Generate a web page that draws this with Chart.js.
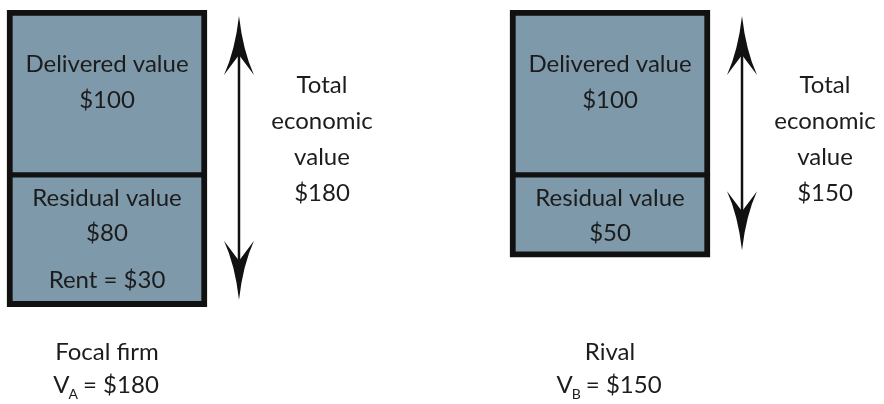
<!DOCTYPE html>
<html>
<head>
<meta charset="utf-8">
<script src="https://cdn.jsdelivr.net/npm/chart.js@4.4.1/dist/chart.umd.min.js"></script>
<style>
  html, body { margin: 0; padding: 0; background: #fff; }
</style>
</head>
<body>
<canvas id="valueChart" width="884" height="404"></canvas>
<script>
const firms = ['Focal firm', 'Rival'];
const firmSymbols = ['A', 'B'];
const deliveredValue = [100, 100];
const residualValue = [80, 50];
const rentValue = [30, null];
const totalValue = [180, 150];

const fillColor = '#7e99aa';
const edgeColor = '#111111';
const textColor = '#1c1c1c';
const fontFamily = 'Lato, "Open Sans", sans-serif';

function drawArrow(ctx, x, yTop, yBottom) {
    const headLen = 59, half = 15, notch = 20;
    ctx.save();
    ctx.strokeStyle = edgeColor;
    ctx.fillStyle = edgeColor;
    ctx.lineWidth = 2.5;
    ctx.beginPath();
    ctx.moveTo(x, yTop + headLen - notch);
    ctx.lineTo(x, yBottom - headLen + notch);
    ctx.stroke();

    // top head
    ctx.beginPath();
    ctx.moveTo(x, yTop);
    ctx.quadraticCurveTo(x - 4, yTop + 35, x - half, yTop + headLen);
    ctx.lineTo(x, yTop + headLen - notch);
    ctx.lineTo(x + half, yTop + headLen);
    ctx.quadraticCurveTo(x + 4, yTop + 35, x, yTop);
    ctx.fill();

    // bottom head
    ctx.beginPath();
    ctx.moveTo(x, yBottom);
    ctx.quadraticCurveTo(x - 4, yBottom - 35, x - half, yBottom - headLen);
    ctx.lineTo(x, yBottom - headLen + notch);
    ctx.lineTo(x + half, yBottom - headLen);
    ctx.quadraticCurveTo(x + 4, yBottom - 35, x, yBottom);
    ctx.fill();
    ctx.restore();
}

const labelPlugin = {
    id: 'valueLabels',
    afterDatasetsDraw(chart) {
        const ctx = chart.ctx;
        const xs = chart.scales.x;
        const ys = chart.scales.y;
        ctx.save();
        ctx.fillStyle = textColor;
        ctx.textAlign = 'center';
        ctx.textBaseline = 'middle';
        ctx.font = '24px ' + fontFamily;

        firms.forEach((firm, i) => {
            const cx = xs.getPixelForValue(i);
            const top = ys.getPixelForValue(0);
            const mid = ys.getPixelForValue(deliveredValue[i]);
            const bottom = ys.getPixelForValue(totalValue[i]);

            // text inside the bars
            ctx.fillText('Delivered value', cx, top + 54);
            ctx.fillText('$' + deliveredValue[i], cx, top + 90);
            ctx.fillText('Residual value', cx, mid + 23);
            ctx.fillText('$' + residualValue[i], cx, mid + 58);
            if (rentValue[i] !== null) {
                ctx.fillText('Rent = $' + rentValue[i], cx, bottom - 26);
            }

            // double arrow for the total
            drawArrow(ctx, cx + 132, top + 6, bottom - 7);

            // total economic value text
            const tx = cx + 215;
            ['Total', 'economic', 'value', '$' + totalValue[i]].forEach((line, k) => {
                ctx.fillText(line, tx, top + 75 + k * 36);
            });

            // firm name and V subscript line
            const by = chart.height;
            ctx.fillText(firm, cx, by - 52);
            const big = '24px ' + fontFamily, small = '14px ' + fontFamily;
            const rest = ' = $' + totalValue[i];
            ctx.font = big;
            const wV = ctx.measureText('V').width;
            const wRest = ctx.measureText(rest).width;
            ctx.font = small;
            const wSub = ctx.measureText(firmSymbols[i]).width;
            let x0 = cx - (wV + wSub + wRest) / 2;
            ctx.textAlign = 'left';
            ctx.font = big;
            ctx.fillText('V', x0, by - 19);
            ctx.font = small;
            ctx.fillText(firmSymbols[i], x0 + wV - 1, by - 10);
            ctx.font = big;
            ctx.fillText(rest, x0 + wV + wSub - 2, by - 19);
            ctx.textAlign = 'center';
        });
        ctx.restore();
    }
};

const ctx = document.getElementById('valueChart');
new Chart(ctx, {
    type: 'bar',
    data: {
        datasets: [{
            label: 'Delivered value',
            data: deliveredValue.map((v, i) => ({ x: i, y: v })),
            backgroundColor: fillColor,
            borderColor: edgeColor,
            borderWidth: { top: 6, left: 6, right: 6, bottom: 3 },
            borderSkipped: false,
            barThickness: 200
        }, {
            label: 'Residual value',
            data: residualValue.map((v, i) => ({ x: i, y: v })),
            backgroundColor: fillColor,
            borderColor: edgeColor,
            borderWidth: { top: 3, left: 6, right: 6, bottom: 6 },
            borderSkipped: false,
            barThickness: 200
        }]
    },
    options: {
        responsive: false,
        animation: false,
        layout: { padding: { top: 10, bottom: 0, left: 0, right: 0 } },
        scales: {
            x: { type: 'linear', display: false, offset: false, stacked: true, min: -0.2127, max: 1.5447 },
            y: { display: false, stacked: true, reverse: true, min: 0, max: 239 }
        },
        plugins: {
            legend: { display: false },
            tooltip: { enabled: false }
        }
    },
    plugins: [labelPlugin]
});
</script>
</body>
</html>
